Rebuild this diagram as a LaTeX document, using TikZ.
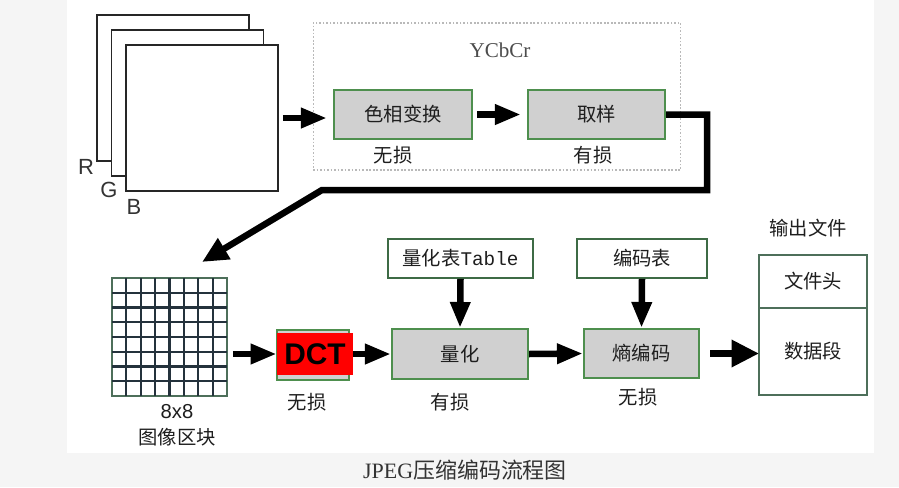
\documentclass[tikz,border=0pt]{standalone}
\usepackage{fontspec}
\setmainfont{Noto Sans CJK SC}
\newfontfamily\latinserif{Liberation Serif}
\newfontfamily\latinmono{Liberation Mono}
\newfontfamily\latinsans{Liberation Sans}
\usetikzlibrary{arrows.meta, positioning}

\definecolor{boxgreen}{HTML}{4E8F4E}
\definecolor{boxgray}{HTML}{D0D0D0}
\definecolor{tblgreen}{HTML}{3E6B45}
\definecolor{gridline}{HTML}{24323C}
\definecolor{gridframe}{HTML}{4D6F5A}
\definecolor{pagegray}{HTML}{F5F5F5}
\definecolor{txt}{HTML}{1E1E1E}

\begin{document}
\begin{tikzpicture}[x=0.02cm, y=-0.02cm,
    proc/.style={draw=boxgreen, fill=boxgray, line width=1.2pt, minimum height=0.98cm, font=\fontsize{11}{13}\selectfont, text=txt},
    tbl/.style={draw=tblgreen, fill=white, line width=1pt, minimum height=0.78cm, font=\fontsize{11}{13}\selectfont, text=txt},
    outbox/.style={draw=gridframe, fill=white, line width=1.1pt, minimum width=2.16cm, outer sep=0pt, font=\fontsize{11}{13}\selectfont, text=txt},
    sheet/.style={draw=black!85, fill=white, line width=1.1pt, minimum width=3.04cm, minimum height=2.92cm},
    chan/.style={font=\latinsans\fontsize{12.5}{14}\selectfont, text=black!80},
    lbl/.style={font=\fontsize{11}{13}\selectfont, text=txt},
    arr/.style={line width=3.7pt, -{Triangle[length=0.52cm, width=0.38cm]}},
]
% page and white panel
\useasboundingbox (0,0) rectangle (899,487);
\fill[pagegray] (0,0) rectangle (899,487);
\fill[white] (67,0) rectangle (874,453);

% === R, G, B planes ===
\node[sheet] (sheetR) at (173,88) {};
\node[sheet] (sheetG) at (187.5,103) {};
\node[sheet] (sheetB) at (202,118) {};
\node[chan] (labR) at (86,167) {R};
\node[chan] (labG) at (109,190) {G};
\node[chan] (labB) at (134,207) {B};

% === colour conversion group ===
\node[draw=gray!55, dash pattern=on 1pt off 1pt, line width=0.6pt, minimum width=7.36cm, minimum height=2.94cm] (ycc) at (497,96.5) {};
\node[font=\latinserif\fontsize{12}{14}\selectfont, text=black!70] (ycclabel) at (500,50) {YCbCr};

\node[proc, minimum width=2.76cm] (hue) at (403,114.5) {色相变换};
\node[proc, minimum width=2.74cm] (samp) at (596.5,114.5) {取样};
\node[lbl] (hueloss) at (393,155) {无损};
\node[lbl] (samploss) at (593,155) {有损};

\draw[arr, shorten <=0.08cm, shorten >=0.12cm] (sheetB.east) -- (hue.west |- sheetB.east);
\draw[arr, shorten <=0.08cm, shorten >=0.12cm] (hue.east) -- (samp.west);

% wrap-around connector
\coordinate (wrapA) at (707,190);
\coordinate (wrapB) at (322,190);
\coordinate (wrapEnd) at (202,262);
\draw[line width=3.7pt, -{Triangle[length=0.52cm, width=0.46cm]}] (samp.east) -| (wrapA) -- (wrapB) -- (wrapEnd);

% === 8x8 block ===
\node[draw=gridframe, line width=1pt, minimum width=2.3cm, minimum height=2.36cm, inner sep=0pt] (block) at (169.5,337) {};
\foreach \k in {1,...,7} {
    \draw[gridline, line width=1.2pt] (112+\k*14.375,278) -- ++(0,118);
    \draw[gridline, line width=1.2pt] (112,278+\k*14.75) -- ++(115,0);
}
\node[font=\latinsans\fontsize{11.5}{13}\selectfont, text=txt] (blocksize) at (177,412) {8x8};
\node[lbl] (blockname) at (177,437) {图像区块};

% === DCT ===
\node[proc, minimum width=1.44cm, minimum height=1.0cm] (dctbox) at (313,355) {};
\node[fill=red, minimum width=1.52cm, minimum height=0.84cm, inner sep=0pt, font=\latinsans\bfseries\fontsize{17}{18}\selectfont] (dct) at (315,354) {DCT};
\node[lbl] (dctloss) at (307,402) {无损};

% === quantisation ===
\node[proc, minimum width=2.72cm, minimum height=1.0cm] (quant) at (460,354) {量化};
\node[tbl, minimum width=2.9cm] (qtable) at (460.5,258.5) {量化表{\latinmono Table}};
\node[lbl] (quantloss) at (450,402) {有损};

% === entropy coding ===
\node[proc, minimum width=2.3cm] (entropy) at (641.5,353.5) {熵编码};
\node[tbl, minimum width=2.6cm] (ctable) at (642,258.5) {编码表};
\node[lbl] (entloss) at (638,397) {无损};

% === output file ===
\node[outbox, minimum height=1.06cm] (fhead) at (813,281.5) {文件头};
\node[outbox, minimum height=1.74cm, below=0pt of fhead] (fdata) {数据段};
\node[lbl] (outlabel) at (808,228) {输出文件};

% lower row arrows
\draw[arr, shorten <=0.1cm] (block.east |- dct.west) -- (dct.west);
\draw[arr] (dct.east) -- (quant.west |- dct.east);
\draw[arr] (qtable.south) -- (quant.north);
\draw[arr] (quant.east) -- (entropy.west);
\draw[arr] (ctable.south) -- (entropy.north);
\draw[line width=3.7pt, -{Triangle[length=0.55cm, width=0.52cm]}, shorten <=0.2cm] (entropy.east) -- (fdata.west |- entropy.east);

% caption
\node[font=\fontsize{12.5}{14}\selectfont, text=black!80] (caption) at (465,470) {{\latinserif JPEG}压缩编码流程图};
\end{tikzpicture}
\end{document}
